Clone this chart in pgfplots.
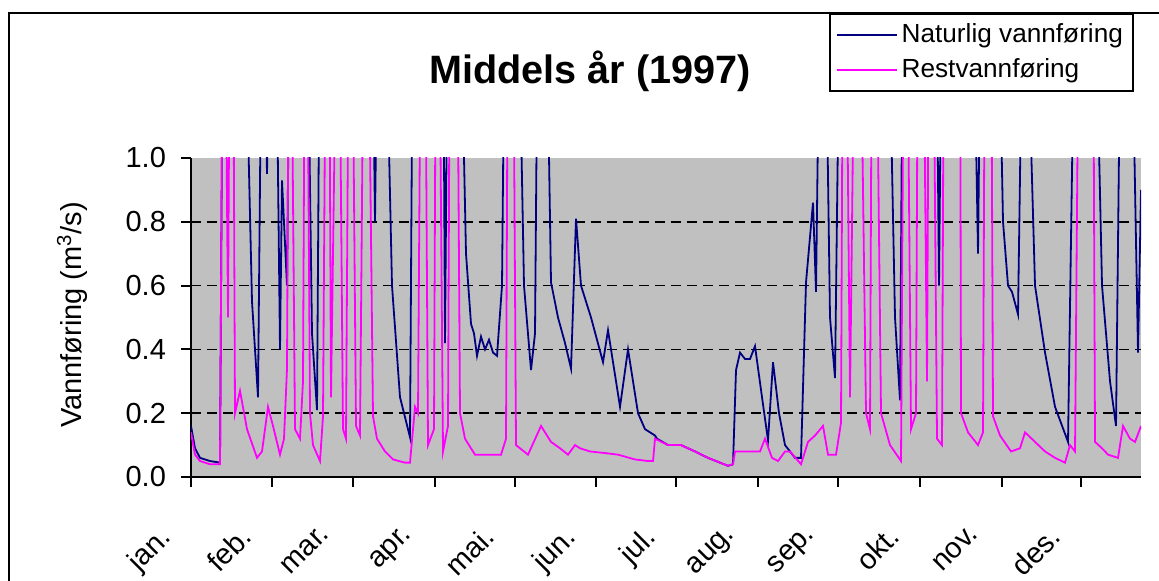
\documentclass[border=0pt]{standalone}
\usepackage{pgfplots}
\pgfplotsset{compat=1.18}
\usepackage{fontspec}
\setmainfont{Liberation Sans}
\definecolor{navyc}{RGB}{0,0,128}
\definecolor{pinkc}{RGB}{255,0,255}
\definecolor{bggray}{RGB}{192,192,192}
\begin{document}
\begin{tikzpicture}
\useasboundingbox (0,0) rectangle (579.5pt,290.5pt);
\draw[line width=1pt] (4.5pt,0) -- (4.5pt,284pt) -- (579.5pt,284pt);
\begin{axis}[
  at={(95.5pt,52pt)}, anchor=south west,
  scale only axis, width=475pt, height=159.5pt,
  xmin=0, xmax=950, ymin=0, ymax=1,
  axis background/.style={fill=bggray},
  axis x line*=bottom, axis y line*=left,
  axis line style={line width=1pt, black},
  tick align=outside, major tick length=5pt,
  tick style={black, line width=1pt},
  xtick={0,81,162,244,324,405,485,567,647,729,811,890},
  xticklabels={jan.,feb.,mar.,apr.,mai.,jun.,jul.,aug.,sep.,okt.,nov.,des.},
  ytick={0,0.2,0.4,0.6,0.8,1},
  tick label style={font=\fontsize{14.5}{16}\selectfont},
  yticklabel style={xshift=-4pt, /pgf/number format/.cd, fixed, fixed zerofill, precision=1, assume math mode=true},
  xticklabel style={rotate=45, anchor=north east, xshift=-21.5pt, yshift=2.2pt},
  extra y ticks={0.2,0.4,0.6,0.8},
  extra y tick labels={},
  extra y tick style={grid=major, major tick length=0pt,
     major grid style={black, dash pattern=on 5pt off 3pt, line width=0.8pt}},
  title={Middels år (1997)},
  title style={at={(axis description cs:0.42,1.235)}, anchor=center, font=\bfseries\fontsize{19.8}{22}\selectfont},
  ylabel={Vannføring (m\textsuperscript{3}/s)},
  ylabel style={at={(axis description cs:-0.125,0.508)}, anchor=center, font=\fontsize{14.5}{16}\selectfont},
  legend style={at={(axis description cs:0.9926,1.4545)}, anchor=north east, draw=black, line width=1pt, fill=white,
     font=\fontsize{13.1}{15}\selectfont, inner sep=3pt, row sep=2.5pt, cells={anchor=west}},
  legend image code/.code={\draw[#1] (0pt,0pt) -- (30pt,0pt);},
]
\addplot[navyc, line width=0.9pt] coordinates {
(0,0.16)(4,0.09)(9,0.06)(19,0.05)(29,0.045)(32,1.6)(54,1.5)(61,0.55)(67,0.25)(71,1.6)(74,1.3)(76,0.95)(79,1.5)(85,1.5)(89,0.4)(91,0.93)(96,0.6)(99,1.6)(116,1.6)(121,0.45)(126,0.21)(129,1.6)(181,1.6)(184,0.8)(187,1.6)(194,1.6)(201,0.6)(209,0.25)(219,0.125)(222,1.6)(252,1.6)(254,0.42)(257,1.6)(269,1.6)(275,0.7)(280,0.48)(283,0.45)(286,0.38)(290,0.44)(294,0.40)(298,0.43)(302,0.39)(306,0.38)(311,0.6)(314,1.6)(327,1.6)(333,0.6)(340,0.335)(344,0.45)(347,1.6)(355,1.6)(360,0.61)(367,0.5)(374,0.42)(380,0.34)(385,0.81)(390,0.6)(400,0.5)(412,0.36)(417,0.46)(429,0.22)(437,0.40)(447,0.2)(454,0.15)(464,0.13)(466,0.12)(477,0.10)(490,0.10)(504,0.08)(517,0.06)(537,0.035)(542,0.04)(545,0.335)(549,0.39)(554,0.37)(559,0.37)(564,0.41)(571,0.25)(577,0.115)(582,0.36)(588,0.2)(594,0.1)(604,0.06)(610,0.06)(615,0.61)(622,0.86)(625,0.58)(629,1.6)(634,1.6)(639,0.5)(644,0.31)(649,1.6)(697,1.6)(704,0.5)(709,0.24)(712,1.6)(745,1.6)(748,0.6)(751,1.6)(782,1.6)(787,0.7)(790,1.6)(807,1.6)(812,0.8)(817,0.6)(821,0.58)(827,0.51)(832,1.6)(835,1.6)(844,0.6)(854,0.39)(864,0.22)(877,0.11)(884,1.6)(904,1.6)(911,0.6)(919,0.3)(925,0.16)(930,1.6)(940,1.6)(947,0.39)(950,0.9)
};
\addlegendentry{Naturlig vannføring}
\addplot[pinkc, line width=0.9pt] coordinates {
(0,0.14)(4,0.07)(9,0.05)(19,0.04)(29,0.04)(32,1.6)(34,1.6)(37,0.5)(39,1.6)(42,1.6)(44,0.2)(49,0.27)(56,0.15)(66,0.06)(71,0.08)(77,0.22)(82,0.16)(89,0.07)(93,0.12)(96,0.34)(98,1.6)(100,1.6)(104,0.15)(109,0.12)(112,0.3)(114,1.6)(116,1.6)(119,0.2)(122,0.1)(129,0.05)(132,0.19)(135,1.6)(138,1.6)(140,0.25)(146,1.6)(148,1.6)(152,0.15)(155,0.12)(158,1.6)(161,1.6)(165,0.16)(169,0.13)(173,1.6)(177,1.6)(182,0.19)(186,0.12)(194,0.08)(202,0.055)(214,0.045)(219,0.045)(224,0.22)(227,0.2)(230,1.6)(234,1.6)(237,0.1)(243,0.15)(245,1.6)(248,1.6)(252,0.08)(257,0.16)(259,1.6)(266,1.6)(269,0.2)(274,0.12)(284,0.07)(299,0.07)(310,0.07)(315,0.12)(317,1.6)(322,1.6)(325,0.1)(337,0.07)(350,0.16)(360,0.11)(369,0.09)(377,0.07)(384,0.1)(389,0.09)(399,0.08)(414,0.075)(427,0.07)(444,0.055)(457,0.05)(462,0.05)(464,0.12)(477,0.10)(490,0.10)(504,0.08)(517,0.06)(537,0.035)(542,0.04)(544,0.08)(554,0.08)(564,0.08)(569,0.08)(574,0.12)(581,0.06)(587,0.05)(594,0.08)(599,0.08)(610,0.04)(617,0.11)(624,0.13)(632,0.16)(637,0.07)(645,0.07)(650,0.17)(652,1.6)(655,1.6)(659,0.25)(664,1.6)(669,1.6)(675,0.2)(679,0.15)(681,1.6)(685,1.6)(690,0.2)(699,0.1)(710,0.05)(713,1.6)(716,1.6)(720,0.15)(725,0.2)(727,1.6)(732,1.6)(736,0.3)(738,1.6)(742,1.6)(746,0.12)(751,0.1)(753,1.6)(769,1.6)(770,0.2)(777,0.14)(787,0.1)(792,0.14)(794,1.6)(800,1.6)(802,0.19)(809,0.13)(820,0.08)(829,0.09)(834,0.14)(844,0.11)(854,0.08)(864,0.06)(874,0.045)(879,0.1)(884,0.08)(888,1.6)(902,1.6)(904,0.11)(911,0.09)(917,0.07)(927,0.06)(932,0.16)(939,0.12)(944,0.11)(950,0.16)
};
\addlegendentry{Restvannføring}
\end{axis}
\end{tikzpicture}
\end{document}
